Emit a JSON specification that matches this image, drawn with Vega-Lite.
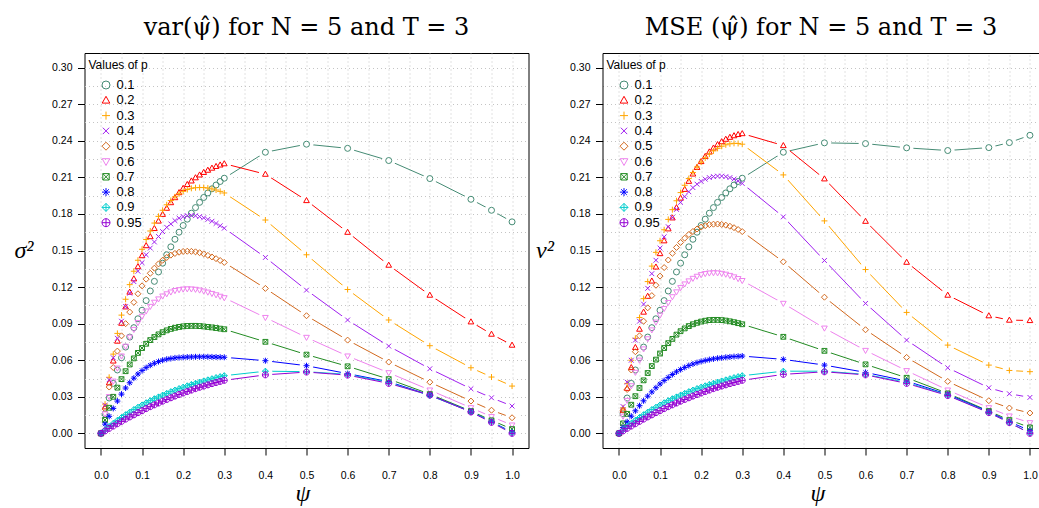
{
"$schema":"https://vega.github.io/schema/vega-lite/v6.json",
"padding":{"left":12.5,"top":15,"right":0,"bottom":0},
"background":"white",
"config":{
 "font":"Liberation Sans",
 "view":{"stroke":"black","strokeWidth":1},
 "axis":{"labelFont":"Liberation Sans","labelColor":"black","tickColor":"black","domainColor":"black","gridColor":"#c4c4c4","gridDash":[1,3],"gridWidth":1},
 "title":{"font":"DejaVu Serif","fontSize":24,"fontWeight":"normal","color":"black","offset":13},
 "legend":{"titleFont":"Liberation Sans","titleFontSize":12,"titleFontWeight":"normal","titleColor":"black","labelFont":"Liberation Sans","labelFontSize":13,"labelColor":"black","symbolSize":64,"symbolStrokeWidth":1,"rowPadding":1.3,"titlePadding":7,"labelOffset":4,"symbolOffset":11,"padding":0}
},
"datasets":{"d":[
{"f":"v","p":"0.1","x":0,"y":0},{"f":"v","p":"0.1","x":0.01,"y":0.016},{"f":"v","p":"0.1","x":0.02,"y":0.029},{"f":"v","p":"0.1","x":0.03,"y":0.041},{"f":"v","p":"0.1","x":0.04,"y":0.052},{"f":"v","p":"0.1","x":0.05,"y":0.062},{"f":"v","p":"0.1","x":0.06,"y":0.0708},{"f":"v","p":"0.1","x":0.07,"y":0.079},{"f":"v","p":"0.1","x":0.08,"y":0.0867},{"f":"v","p":"0.1","x":0.09,"y":0.094},{"f":"v","p":"0.1","x":0.1,"y":0.101},{"f":"v","p":"0.1","x":0.11,"y":0.1089},{"f":"v","p":"0.1","x":0.12,"y":0.1168},{"f":"v","p":"0.1","x":0.13,"y":0.1247},{"f":"v","p":"0.1","x":0.14,"y":0.1324},{"f":"v","p":"0.1","x":0.15,"y":0.1396},{"f":"v","p":"0.1","x":0.16,"y":0.1465},{"f":"v","p":"0.1","x":0.17,"y":0.153},{"f":"v","p":"0.1","x":0.18,"y":0.1592},{"f":"v","p":"0.1","x":0.19,"y":0.165},{"f":"v","p":"0.1","x":0.2,"y":0.1705},{"f":"v","p":"0.1","x":0.21,"y":0.1757},{"f":"v","p":"0.1","x":0.22,"y":0.1806},{"f":"v","p":"0.1","x":0.23,"y":0.1852},{"f":"v","p":"0.1","x":0.24,"y":0.1895},{"f":"v","p":"0.1","x":0.25,"y":0.1935},{"f":"v","p":"0.1","x":0.26,"y":0.1972},{"f":"v","p":"0.1","x":0.27,"y":0.2006},{"f":"v","p":"0.1","x":0.28,"y":0.2037},{"f":"v","p":"0.1","x":0.29,"y":0.2066},{"f":"v","p":"0.1","x":0.3,"y":0.2093},{"f":"v","p":"0.1","x":0.4,"y":0.2306},{"f":"v","p":"0.1","x":0.5,"y":0.2372},{"f":"v","p":"0.1","x":0.6,"y":0.2338},{"f":"v","p":"0.1","x":0.7,"y":0.2238},{"f":"v","p":"0.1","x":0.8,"y":0.209},{"f":"v","p":"0.1","x":0.9,"y":0.192},{"f":"v","p":"0.1","x":0.95,"y":0.183},{"f":"v","p":"0.1","x":1,"y":0.1735},
{"f":"v","p":"0.2","x":0,"y":0},{"f":"v","p":"0.2","x":0.01,"y":0.0218},{"f":"v","p":"0.2","x":0.02,"y":0.0415},{"f":"v","p":"0.2","x":0.03,"y":0.0594},{"f":"v","p":"0.2","x":0.04,"y":0.0757},{"f":"v","p":"0.2","x":0.05,"y":0.0904},{"f":"v","p":"0.2","x":0.06,"y":0.1038},{"f":"v","p":"0.2","x":0.07,"y":0.1159},{"f":"v","p":"0.2","x":0.08,"y":0.1268},{"f":"v","p":"0.2","x":0.09,"y":0.1368},{"f":"v","p":"0.2","x":0.1,"y":0.1458},{"f":"v","p":"0.2","x":0.11,"y":0.154},{"f":"v","p":"0.2","x":0.12,"y":0.1614},{"f":"v","p":"0.2","x":0.13,"y":0.1681},{"f":"v","p":"0.2","x":0.14,"y":0.1742},{"f":"v","p":"0.2","x":0.15,"y":0.1797},{"f":"v","p":"0.2","x":0.16,"y":0.1847},{"f":"v","p":"0.2","x":0.17,"y":0.1893},{"f":"v","p":"0.2","x":0.18,"y":0.1934},{"f":"v","p":"0.2","x":0.19,"y":0.1975},{"f":"v","p":"0.2","x":0.2,"y":0.201},{"f":"v","p":"0.2","x":0.21,"y":0.2042},{"f":"v","p":"0.2","x":0.22,"y":0.2071},{"f":"v","p":"0.2","x":0.23,"y":0.2097},{"f":"v","p":"0.2","x":0.24,"y":0.212},{"f":"v","p":"0.2","x":0.25,"y":0.2141},{"f":"v","p":"0.2","x":0.26,"y":0.2159},{"f":"v","p":"0.2","x":0.27,"y":0.2176},{"f":"v","p":"0.2","x":0.28,"y":0.219},{"f":"v","p":"0.2","x":0.29,"y":0.2202},{"f":"v","p":"0.2","x":0.3,"y":0.2212},{"f":"v","p":"0.2","x":0.4,"y":0.2126},{"f":"v","p":"0.2","x":0.5,"y":0.191},{"f":"v","p":"0.2","x":0.6,"y":0.165},{"f":"v","p":"0.2","x":0.7,"y":0.138},{"f":"v","p":"0.2","x":0.8,"y":0.1134},{"f":"v","p":"0.2","x":0.9,"y":0.0915},{"f":"v","p":"0.2","x":0.95,"y":0.0814},{"f":"v","p":"0.2","x":1,"y":0.0724},
{"f":"v","p":"0.3","x":0,"y":0},{"f":"v","p":"0.3","x":0.01,"y":0.024},{"f":"v","p":"0.3","x":0.02,"y":0.046},{"f":"v","p":"0.3","x":0.03,"y":0.065},{"f":"v","p":"0.3","x":0.04,"y":0.082},{"f":"v","p":"0.3","x":0.05,"y":0.097},{"f":"v","p":"0.3","x":0.06,"y":0.11},{"f":"v","p":"0.3","x":0.07,"y":0.122},{"f":"v","p":"0.3","x":0.08,"y":0.133},{"f":"v","p":"0.3","x":0.09,"y":0.142},{"f":"v","p":"0.3","x":0.1,"y":0.151},{"f":"v","p":"0.3","x":0.11,"y":0.159},{"f":"v","p":"0.3","x":0.12,"y":0.166},{"f":"v","p":"0.3","x":0.13,"y":0.1725},{"f":"v","p":"0.3","x":0.14,"y":0.178},{"f":"v","p":"0.3","x":0.15,"y":0.183},{"f":"v","p":"0.3","x":0.16,"y":0.1875},{"f":"v","p":"0.3","x":0.17,"y":0.191},{"f":"v","p":"0.3","x":0.18,"y":0.194},{"f":"v","p":"0.3","x":0.19,"y":0.1965},{"f":"v","p":"0.3","x":0.2,"y":0.1985},{"f":"v","p":"0.3","x":0.21,"y":0.2},{"f":"v","p":"0.3","x":0.22,"y":0.201},{"f":"v","p":"0.3","x":0.23,"y":0.2015},{"f":"v","p":"0.3","x":0.24,"y":0.2017},{"f":"v","p":"0.3","x":0.25,"y":0.2016},{"f":"v","p":"0.3","x":0.26,"y":0.2012},{"f":"v","p":"0.3","x":0.27,"y":0.2005},{"f":"v","p":"0.3","x":0.28,"y":0.1996},{"f":"v","p":"0.3","x":0.29,"y":0.1985},{"f":"v","p":"0.3","x":0.3,"y":0.1972},{"f":"v","p":"0.3","x":0.4,"y":0.175},{"f":"v","p":"0.3","x":0.5,"y":0.1465},{"f":"v","p":"0.3","x":0.6,"y":0.118},{"f":"v","p":"0.3","x":0.7,"y":0.093},{"f":"v","p":"0.3","x":0.8,"y":0.0719},{"f":"v","p":"0.3","x":0.9,"y":0.0538},{"f":"v","p":"0.3","x":0.95,"y":0.0462},{"f":"v","p":"0.3","x":1,"y":0.0388},
{"f":"v","p":"0.4","x":0,"y":0},{"f":"v","p":"0.4","x":0.01,"y":0.023},{"f":"v","p":"0.4","x":0.02,"y":0.044},{"f":"v","p":"0.4","x":0.03,"y":0.062},{"f":"v","p":"0.4","x":0.04,"y":0.078},{"f":"v","p":"0.4","x":0.05,"y":0.092},{"f":"v","p":"0.4","x":0.06,"y":0.104},{"f":"v","p":"0.4","x":0.07,"y":0.115},{"f":"v","p":"0.4","x":0.08,"y":0.1245},{"f":"v","p":"0.4","x":0.09,"y":0.133},{"f":"v","p":"0.4","x":0.1,"y":0.14},{"f":"v","p":"0.4","x":0.11,"y":0.1465},{"f":"v","p":"0.4","x":0.12,"y":0.152},{"f":"v","p":"0.4","x":0.13,"y":0.157},{"f":"v","p":"0.4","x":0.14,"y":0.1615},{"f":"v","p":"0.4","x":0.15,"y":0.1655},{"f":"v","p":"0.4","x":0.16,"y":0.169},{"f":"v","p":"0.4","x":0.17,"y":0.1718},{"f":"v","p":"0.4","x":0.18,"y":0.1745},{"f":"v","p":"0.4","x":0.19,"y":0.1765},{"f":"v","p":"0.4","x":0.2,"y":0.1778},{"f":"v","p":"0.4","x":0.21,"y":0.1786},{"f":"v","p":"0.4","x":0.22,"y":0.1788},{"f":"v","p":"0.4","x":0.23,"y":0.1785},{"f":"v","p":"0.4","x":0.24,"y":0.1778},{"f":"v","p":"0.4","x":0.25,"y":0.1768},{"f":"v","p":"0.4","x":0.26,"y":0.1755},{"f":"v","p":"0.4","x":0.27,"y":0.174},{"f":"v","p":"0.4","x":0.28,"y":0.1722},{"f":"v","p":"0.4","x":0.29,"y":0.1703},{"f":"v","p":"0.4","x":0.3,"y":0.1683},{"f":"v","p":"0.4","x":0.4,"y":0.1443},{"f":"v","p":"0.4","x":0.5,"y":0.1175},{"f":"v","p":"0.4","x":0.6,"y":0.093},{"f":"v","p":"0.4","x":0.7,"y":0.0716},{"f":"v","p":"0.4","x":0.8,"y":0.053},{"f":"v","p":"0.4","x":0.9,"y":0.0366},{"f":"v","p":"0.4","x":0.95,"y":0.0292},{"f":"v","p":"0.4","x":1,"y":0.0224},
{"f":"v","p":"0.5","x":0,"y":0},{"f":"v","p":"0.5","x":0.01,"y":0.02},{"f":"v","p":"0.5","x":0.02,"y":0.038},{"f":"v","p":"0.5","x":0.03,"y":0.054},{"f":"v","p":"0.5","x":0.04,"y":0.0675},{"f":"v","p":"0.5","x":0.05,"y":0.08},{"f":"v","p":"0.5","x":0.06,"y":0.09},{"f":"v","p":"0.5","x":0.07,"y":0.0995},{"f":"v","p":"0.5","x":0.08,"y":0.1075},{"f":"v","p":"0.5","x":0.09,"y":0.1145},{"f":"v","p":"0.5","x":0.1,"y":0.121},{"f":"v","p":"0.5","x":0.11,"y":0.1265},{"f":"v","p":"0.5","x":0.12,"y":0.1313},{"f":"v","p":"0.5","x":0.13,"y":0.1355},{"f":"v","p":"0.5","x":0.14,"y":0.139},{"f":"v","p":"0.5","x":0.15,"y":0.142},{"f":"v","p":"0.5","x":0.16,"y":0.1443},{"f":"v","p":"0.5","x":0.17,"y":0.1462},{"f":"v","p":"0.5","x":0.18,"y":0.1476},{"f":"v","p":"0.5","x":0.19,"y":0.1486},{"f":"v","p":"0.5","x":0.2,"y":0.1492},{"f":"v","p":"0.5","x":0.21,"y":0.1494},{"f":"v","p":"0.5","x":0.22,"y":0.1493},{"f":"v","p":"0.5","x":0.23,"y":0.1489},{"f":"v","p":"0.5","x":0.24,"y":0.1482},{"f":"v","p":"0.5","x":0.25,"y":0.1472},{"f":"v","p":"0.5","x":0.26,"y":0.146},{"f":"v","p":"0.5","x":0.27,"y":0.1447},{"f":"v","p":"0.5","x":0.28,"y":0.1433},{"f":"v","p":"0.5","x":0.29,"y":0.1418},{"f":"v","p":"0.5","x":0.3,"y":0.1402},{"f":"v","p":"0.5","x":0.4,"y":0.1189},{"f":"v","p":"0.5","x":0.5,"y":0.0965},{"f":"v","p":"0.5","x":0.6,"y":0.0765},{"f":"v","p":"0.5","x":0.7,"y":0.0585},{"f":"v","p":"0.5","x":0.8,"y":0.042},{"f":"v","p":"0.5","x":0.9,"y":0.0265},{"f":"v","p":"0.5","x":0.95,"y":0.019},{"f":"v","p":"0.5","x":1,"y":0.0128},
{"f":"v","p":"0.6","x":0,"y":0},{"f":"v","p":"0.6","x":0.01,"y":0.0159},{"f":"v","p":"0.6","x":0.02,"y":0.0301},{"f":"v","p":"0.6","x":0.03,"y":0.0428},{"f":"v","p":"0.6","x":0.04,"y":0.0535},{"f":"v","p":"0.6","x":0.05,"y":0.0634},{"f":"v","p":"0.6","x":0.06,"y":0.0714},{"f":"v","p":"0.6","x":0.07,"y":0.0789},{"f":"v","p":"0.6","x":0.08,"y":0.0852},{"f":"v","p":"0.6","x":0.09,"y":0.0908},{"f":"v","p":"0.6","x":0.1,"y":0.096},{"f":"v","p":"0.6","x":0.11,"y":0.1003},{"f":"v","p":"0.6","x":0.12,"y":0.1041},{"f":"v","p":"0.6","x":0.13,"y":0.1075},{"f":"v","p":"0.6","x":0.14,"y":0.1102},{"f":"v","p":"0.6","x":0.15,"y":0.1126},{"f":"v","p":"0.6","x":0.16,"y":0.1144},{"f":"v","p":"0.6","x":0.17,"y":0.1159},{"f":"v","p":"0.6","x":0.18,"y":0.1171},{"f":"v","p":"0.6","x":0.19,"y":0.1178},{"f":"v","p":"0.6","x":0.2,"y":0.1183},{"f":"v","p":"0.6","x":0.21,"y":0.1185},{"f":"v","p":"0.6","x":0.22,"y":0.1184},{"f":"v","p":"0.6","x":0.23,"y":0.1181},{"f":"v","p":"0.6","x":0.24,"y":0.1175},{"f":"v","p":"0.6","x":0.25,"y":0.1167},{"f":"v","p":"0.6","x":0.26,"y":0.1158},{"f":"v","p":"0.6","x":0.27,"y":0.1147},{"f":"v","p":"0.6","x":0.28,"y":0.1136},{"f":"v","p":"0.6","x":0.29,"y":0.1124},{"f":"v","p":"0.6","x":0.3,"y":0.1112},{"f":"v","p":"0.6","x":0.4,"y":0.095},{"f":"v","p":"0.6","x":0.5,"y":0.0787},{"f":"v","p":"0.6","x":0.6,"y":0.0634},{"f":"v","p":"0.6","x":0.7,"y":0.0497},{"f":"v","p":"0.6","x":0.8,"y":0.0355},{"f":"v","p":"0.6","x":0.9,"y":0.021},{"f":"v","p":"0.6","x":0.95,"y":0.0137},{"f":"v","p":"0.6","x":1,"y":0.0068},
{"f":"v","p":"0.7","x":0,"y":0},{"f":"v","p":"0.7","x":0.01,"y":0.011},{"f":"v","p":"0.7","x":0.02,"y":0.021},{"f":"v","p":"0.7","x":0.03,"y":0.03},{"f":"v","p":"0.7","x":0.04,"y":0.0375},{"f":"v","p":"0.7","x":0.05,"y":0.0445},{"f":"v","p":"0.7","x":0.06,"y":0.051},{"f":"v","p":"0.7","x":0.07,"y":0.0565},{"f":"v","p":"0.7","x":0.08,"y":0.0615},{"f":"v","p":"0.7","x":0.09,"y":0.066},{"f":"v","p":"0.7","x":0.1,"y":0.07},{"f":"v","p":"0.7","x":0.11,"y":0.0735},{"f":"v","p":"0.7","x":0.12,"y":0.0765},{"f":"v","p":"0.7","x":0.13,"y":0.079},{"f":"v","p":"0.7","x":0.14,"y":0.0812},{"f":"v","p":"0.7","x":0.15,"y":0.083},{"f":"v","p":"0.7","x":0.16,"y":0.0845},{"f":"v","p":"0.7","x":0.17,"y":0.0857},{"f":"v","p":"0.7","x":0.18,"y":0.0866},{"f":"v","p":"0.7","x":0.19,"y":0.0873},{"f":"v","p":"0.7","x":0.2,"y":0.0878},{"f":"v","p":"0.7","x":0.21,"y":0.0881},{"f":"v","p":"0.7","x":0.22,"y":0.0882},{"f":"v","p":"0.7","x":0.23,"y":0.0882},{"f":"v","p":"0.7","x":0.24,"y":0.088},{"f":"v","p":"0.7","x":0.25,"y":0.0877},{"f":"v","p":"0.7","x":0.26,"y":0.0873},{"f":"v","p":"0.7","x":0.27,"y":0.0869},{"f":"v","p":"0.7","x":0.28,"y":0.0864},{"f":"v","p":"0.7","x":0.29,"y":0.0859},{"f":"v","p":"0.7","x":0.3,"y":0.0854},{"f":"v","p":"0.7","x":0.4,"y":0.0751},{"f":"v","p":"0.7","x":0.5,"y":0.0646},{"f":"v","p":"0.7","x":0.6,"y":0.055},{"f":"v","p":"0.7","x":0.7,"y":0.0445},{"f":"v","p":"0.7","x":0.8,"y":0.0322},{"f":"v","p":"0.7","x":0.9,"y":0.0183},{"f":"v","p":"0.7","x":0.95,"y":0.0107},{"f":"v","p":"0.7","x":1,"y":0.0035},
{"f":"v","p":"0.8","x":0,"y":0},{"f":"v","p":"0.8","x":0.01,"y":0.0076},{"f":"v","p":"0.8","x":0.02,"y":0.014},{"f":"v","p":"0.8","x":0.03,"y":0.0205},{"f":"v","p":"0.8","x":0.04,"y":0.0265},{"f":"v","p":"0.8","x":0.05,"y":0.0322},{"f":"v","p":"0.8","x":0.06,"y":0.0372},{"f":"v","p":"0.8","x":0.07,"y":0.0415},{"f":"v","p":"0.8","x":0.08,"y":0.0453},{"f":"v","p":"0.8","x":0.09,"y":0.0487},{"f":"v","p":"0.8","x":0.1,"y":0.0515},{"f":"v","p":"0.8","x":0.11,"y":0.0539},{"f":"v","p":"0.8","x":0.12,"y":0.0559},{"f":"v","p":"0.8","x":0.13,"y":0.0575},{"f":"v","p":"0.8","x":0.14,"y":0.0589},{"f":"v","p":"0.8","x":0.15,"y":0.06},{"f":"v","p":"0.8","x":0.16,"y":0.0608},{"f":"v","p":"0.8","x":0.17,"y":0.0614},{"f":"v","p":"0.8","x":0.18,"y":0.0619},{"f":"v","p":"0.8","x":0.19,"y":0.0622},{"f":"v","p":"0.8","x":0.2,"y":0.0624},{"f":"v","p":"0.8","x":0.21,"y":0.0626},{"f":"v","p":"0.8","x":0.22,"y":0.0627},{"f":"v","p":"0.8","x":0.23,"y":0.0628},{"f":"v","p":"0.8","x":0.24,"y":0.0628},{"f":"v","p":"0.8","x":0.25,"y":0.0628},{"f":"v","p":"0.8","x":0.26,"y":0.0628},{"f":"v","p":"0.8","x":0.27,"y":0.0627},{"f":"v","p":"0.8","x":0.28,"y":0.0626},{"f":"v","p":"0.8","x":0.29,"y":0.0625},{"f":"v","p":"0.8","x":0.3,"y":0.0624},{"f":"v","p":"0.8","x":0.4,"y":0.0596},{"f":"v","p":"0.8","x":0.5,"y":0.0555},{"f":"v","p":"0.8","x":0.6,"y":0.049},{"f":"v","p":"0.8","x":0.7,"y":0.0424},{"f":"v","p":"0.8","x":0.8,"y":0.0314},{"f":"v","p":"0.8","x":0.9,"y":0.0178},{"f":"v","p":"0.8","x":0.95,"y":0.0096},{"f":"v","p":"0.8","x":1,"y":0.001},
{"f":"v","p":"0.9","x":0,"y":0},{"f":"v","p":"0.9","x":0.01,"y":0.0029},{"f":"v","p":"0.9","x":0.02,"y":0.0056},{"f":"v","p":"0.9","x":0.03,"y":0.0082},{"f":"v","p":"0.9","x":0.04,"y":0.0107},{"f":"v","p":"0.9","x":0.05,"y":0.013},{"f":"v","p":"0.9","x":0.06,"y":0.0153},{"f":"v","p":"0.9","x":0.07,"y":0.0174},{"f":"v","p":"0.9","x":0.08,"y":0.0195},{"f":"v","p":"0.9","x":0.09,"y":0.0214},{"f":"v","p":"0.9","x":0.1,"y":0.0233},{"f":"v","p":"0.9","x":0.11,"y":0.0251},{"f":"v","p":"0.9","x":0.12,"y":0.0268},{"f":"v","p":"0.9","x":0.13,"y":0.0284},{"f":"v","p":"0.9","x":0.14,"y":0.0299},{"f":"v","p":"0.9","x":0.15,"y":0.0314},{"f":"v","p":"0.9","x":0.16,"y":0.0328},{"f":"v","p":"0.9","x":0.17,"y":0.0342},{"f":"v","p":"0.9","x":0.18,"y":0.0355},{"f":"v","p":"0.9","x":0.19,"y":0.0367},{"f":"v","p":"0.9","x":0.2,"y":0.0379},{"f":"v","p":"0.9","x":0.21,"y":0.039},{"f":"v","p":"0.9","x":0.22,"y":0.0401},{"f":"v","p":"0.9","x":0.23,"y":0.0411},{"f":"v","p":"0.9","x":0.24,"y":0.0421},{"f":"v","p":"0.9","x":0.25,"y":0.043},{"f":"v","p":"0.9","x":0.26,"y":0.0439},{"f":"v","p":"0.9","x":0.27,"y":0.0448},{"f":"v","p":"0.9","x":0.28,"y":0.0457},{"f":"v","p":"0.9","x":0.29,"y":0.0465},{"f":"v","p":"0.9","x":0.3,"y":0.0473},{"f":"v","p":"0.9","x":0.4,"y":0.051},{"f":"v","p":"0.9","x":0.5,"y":0.0506},{"f":"v","p":"0.9","x":0.6,"y":0.0484},{"f":"v","p":"0.9","x":0.7,"y":0.0418},{"f":"v","p":"0.9","x":0.8,"y":0.031},{"f":"v","p":"0.9","x":0.9,"y":0.0178},{"f":"v","p":"0.9","x":0.95,"y":0.0094},{"f":"v","p":"0.9","x":1,"y":0.0005},
{"f":"v","p":"0.95","x":0,"y":0},{"f":"v","p":"0.95","x":0.01,"y":0.002},{"f":"v","p":"0.95","x":0.02,"y":0.0041},{"f":"v","p":"0.95","x":0.03,"y":0.006},{"f":"v","p":"0.95","x":0.04,"y":0.0079},{"f":"v","p":"0.95","x":0.05,"y":0.0098},{"f":"v","p":"0.95","x":0.06,"y":0.0117},{"f":"v","p":"0.95","x":0.07,"y":0.0135},{"f":"v","p":"0.95","x":0.08,"y":0.0152},{"f":"v","p":"0.95","x":0.09,"y":0.017},{"f":"v","p":"0.95","x":0.1,"y":0.0186},{"f":"v","p":"0.95","x":0.11,"y":0.0203},{"f":"v","p":"0.95","x":0.12,"y":0.0219},{"f":"v","p":"0.95","x":0.13,"y":0.0234},{"f":"v","p":"0.95","x":0.14,"y":0.0249},{"f":"v","p":"0.95","x":0.15,"y":0.0264},{"f":"v","p":"0.95","x":0.16,"y":0.0278},{"f":"v","p":"0.95","x":0.17,"y":0.0292},{"f":"v","p":"0.95","x":0.18,"y":0.0306},{"f":"v","p":"0.95","x":0.19,"y":0.0319},{"f":"v","p":"0.95","x":0.2,"y":0.0331},{"f":"v","p":"0.95","x":0.21,"y":0.0343},{"f":"v","p":"0.95","x":0.22,"y":0.0355},{"f":"v","p":"0.95","x":0.23,"y":0.0367},{"f":"v","p":"0.95","x":0.24,"y":0.0378},{"f":"v","p":"0.95","x":0.25,"y":0.0388},{"f":"v","p":"0.95","x":0.26,"y":0.0398},{"f":"v","p":"0.95","x":0.27,"y":0.0408},{"f":"v","p":"0.95","x":0.28,"y":0.0417},{"f":"v","p":"0.95","x":0.29,"y":0.0426},{"f":"v","p":"0.95","x":0.3,"y":0.0435},{"f":"v","p":"0.95","x":0.4,"y":0.048},{"f":"v","p":"0.95","x":0.5,"y":0.0503},{"f":"v","p":"0.95","x":0.6,"y":0.0478},{"f":"v","p":"0.95","x":0.7,"y":0.041},{"f":"v","p":"0.95","x":0.8,"y":0.0314},{"f":"v","p":"0.95","x":0.9,"y":0.0175},{"f":"v","p":"0.95","x":0.95,"y":0.009},{"f":"v","p":"0.95","x":1,"y":0},
{"f":"m","p":"0.1","x":0,"y":0},{"f":"m","p":"0.1","x":0.01,"y":0.016},{"f":"m","p":"0.1","x":0.02,"y":0.029},{"f":"m","p":"0.1","x":0.03,"y":0.041},{"f":"m","p":"0.1","x":0.04,"y":0.052},{"f":"m","p":"0.1","x":0.05,"y":0.062},{"f":"m","p":"0.1","x":0.06,"y":0.0708},{"f":"m","p":"0.1","x":0.07,"y":0.079},{"f":"m","p":"0.1","x":0.08,"y":0.0867},{"f":"m","p":"0.1","x":0.09,"y":0.094},{"f":"m","p":"0.1","x":0.1,"y":0.101},{"f":"m","p":"0.1","x":0.11,"y":0.1089},{"f":"m","p":"0.1","x":0.12,"y":0.1168},{"f":"m","p":"0.1","x":0.13,"y":0.1247},{"f":"m","p":"0.1","x":0.14,"y":0.1324},{"f":"m","p":"0.1","x":0.15,"y":0.1396},{"f":"m","p":"0.1","x":0.16,"y":0.1465},{"f":"m","p":"0.1","x":0.17,"y":0.153},{"f":"m","p":"0.1","x":0.18,"y":0.1592},{"f":"m","p":"0.1","x":0.19,"y":0.165},{"f":"m","p":"0.1","x":0.2,"y":0.1705},{"f":"m","p":"0.1","x":0.21,"y":0.1757},{"f":"m","p":"0.1","x":0.22,"y":0.1806},{"f":"m","p":"0.1","x":0.23,"y":0.1852},{"f":"m","p":"0.1","x":0.24,"y":0.1895},{"f":"m","p":"0.1","x":0.25,"y":0.1935},{"f":"m","p":"0.1","x":0.26,"y":0.1972},{"f":"m","p":"0.1","x":0.27,"y":0.2006},{"f":"m","p":"0.1","x":0.28,"y":0.2037},{"f":"m","p":"0.1","x":0.29,"y":0.2066},{"f":"m","p":"0.1","x":0.3,"y":0.2093},{"f":"m","p":"0.1","x":0.4,"y":0.2306},{"f":"m","p":"0.1","x":0.5,"y":0.2383},{"f":"m","p":"0.1","x":0.6,"y":0.2377},{"f":"m","p":"0.1","x":0.7,"y":0.2342},{"f":"m","p":"0.1","x":0.8,"y":0.232},{"f":"m","p":"0.1","x":0.9,"y":0.2344},{"f":"m","p":"0.1","x":0.95,"y":0.2385},{"f":"m","p":"0.1","x":1,"y":0.2445},
{"f":"m","p":"0.2","x":0,"y":0},{"f":"m","p":"0.2","x":0.01,"y":0.019},{"f":"m","p":"0.2","x":0.02,"y":0.037},{"f":"m","p":"0.2","x":0.03,"y":0.054},{"f":"m","p":"0.2","x":0.04,"y":0.0705},{"f":"m","p":"0.2","x":0.05,"y":0.0855},{"f":"m","p":"0.2","x":0.06,"y":0.0995},{"f":"m","p":"0.2","x":0.07,"y":0.1125},{"f":"m","p":"0.2","x":0.08,"y":0.125},{"f":"m","p":"0.2","x":0.09,"y":0.1365},{"f":"m","p":"0.2","x":0.1,"y":0.1475},{"f":"m","p":"0.2","x":0.11,"y":0.158},{"f":"m","p":"0.2","x":0.12,"y":0.1678},{"f":"m","p":"0.2","x":0.13,"y":0.1768},{"f":"m","p":"0.2","x":0.14,"y":0.1852},{"f":"m","p":"0.2","x":0.15,"y":0.193},{"f":"m","p":"0.2","x":0.16,"y":0.2002},{"f":"m","p":"0.2","x":0.17,"y":0.2068},{"f":"m","p":"0.2","x":0.18,"y":0.2128},{"f":"m","p":"0.2","x":0.19,"y":0.2182},{"f":"m","p":"0.2","x":0.2,"y":0.223},{"f":"m","p":"0.2","x":0.21,"y":0.2272},{"f":"m","p":"0.2","x":0.22,"y":0.2309},{"f":"m","p":"0.2","x":0.23,"y":0.2341},{"f":"m","p":"0.2","x":0.24,"y":0.2369},{"f":"m","p":"0.2","x":0.25,"y":0.2393},{"f":"m","p":"0.2","x":0.26,"y":0.2413},{"f":"m","p":"0.2","x":0.27,"y":0.2429},{"f":"m","p":"0.2","x":0.28,"y":0.2442},{"f":"m","p":"0.2","x":0.29,"y":0.2452},{"f":"m","p":"0.2","x":0.3,"y":0.2459},{"f":"m","p":"0.2","x":0.4,"y":0.2361},{"f":"m","p":"0.2","x":0.5,"y":0.2088},{"f":"m","p":"0.2","x":0.6,"y":0.174},{"f":"m","p":"0.2","x":0.7,"y":0.1404},{"f":"m","p":"0.2","x":0.8,"y":0.1134},{"f":"m","p":"0.2","x":0.9,"y":0.0965},{"f":"m","p":"0.2","x":0.95,"y":0.0929},{"f":"m","p":"0.2","x":1,"y":0.0926},
{"f":"m","p":"0.3","x":0,"y":0},{"f":"m","p":"0.3","x":0.01,"y":0.021},{"f":"m","p":"0.3","x":0.02,"y":0.041},{"f":"m","p":"0.3","x":0.03,"y":0.06},{"f":"m","p":"0.3","x":0.04,"y":0.078},{"f":"m","p":"0.3","x":0.05,"y":0.095},{"f":"m","p":"0.3","x":0.06,"y":0.1105},{"f":"m","p":"0.3","x":0.07,"y":0.1245},{"f":"m","p":"0.3","x":0.08,"y":0.1372},{"f":"m","p":"0.3","x":0.09,"y":0.1485},{"f":"m","p":"0.3","x":0.1,"y":0.158},{"f":"m","p":"0.3","x":0.11,"y":0.167},{"f":"m","p":"0.3","x":0.12,"y":0.1755},{"f":"m","p":"0.3","x":0.13,"y":0.1835},{"f":"m","p":"0.3","x":0.14,"y":0.1908},{"f":"m","p":"0.3","x":0.15,"y":0.1975},{"f":"m","p":"0.3","x":0.16,"y":0.2035},{"f":"m","p":"0.3","x":0.17,"y":0.209},{"f":"m","p":"0.3","x":0.18,"y":0.214},{"f":"m","p":"0.3","x":0.19,"y":0.2185},{"f":"m","p":"0.3","x":0.2,"y":0.2225},{"f":"m","p":"0.3","x":0.21,"y":0.226},{"f":"m","p":"0.3","x":0.22,"y":0.2291},{"f":"m","p":"0.3","x":0.23,"y":0.2317},{"f":"m","p":"0.3","x":0.24,"y":0.2338},{"f":"m","p":"0.3","x":0.25,"y":0.2355},{"f":"m","p":"0.3","x":0.26,"y":0.2367},{"f":"m","p":"0.3","x":0.27,"y":0.2375},{"f":"m","p":"0.3","x":0.28,"y":0.2379},{"f":"m","p":"0.3","x":0.29,"y":0.2378},{"f":"m","p":"0.3","x":0.3,"y":0.2372},{"f":"m","p":"0.3","x":0.4,"y":0.212},{"f":"m","p":"0.3","x":0.5,"y":0.1743},{"f":"m","p":"0.3","x":0.6,"y":0.1344},{"f":"m","p":"0.3","x":0.7,"y":0.0992},{"f":"m","p":"0.3","x":0.8,"y":0.0724},{"f":"m","p":"0.3","x":0.9,"y":0.056},{"f":"m","p":"0.3","x":0.95,"y":0.0516},{"f":"m","p":"0.3","x":1,"y":0.0506},
{"f":"m","p":"0.4","x":0,"y":0},{"f":"m","p":"0.4","x":0.01,"y":0.022},{"f":"m","p":"0.4","x":0.02,"y":0.042},{"f":"m","p":"0.4","x":0.03,"y":0.06},{"f":"m","p":"0.4","x":0.04,"y":0.0765},{"f":"m","p":"0.4","x":0.05,"y":0.092},{"f":"m","p":"0.4","x":0.06,"y":0.106},{"f":"m","p":"0.4","x":0.07,"y":0.119},{"f":"m","p":"0.4","x":0.08,"y":0.131},{"f":"m","p":"0.4","x":0.09,"y":0.142},{"f":"m","p":"0.4","x":0.1,"y":0.152},{"f":"m","p":"0.4","x":0.11,"y":0.1612},{"f":"m","p":"0.4","x":0.12,"y":0.1695},{"f":"m","p":"0.4","x":0.13,"y":0.177},{"f":"m","p":"0.4","x":0.14,"y":0.1837},{"f":"m","p":"0.4","x":0.15,"y":0.1895},{"f":"m","p":"0.4","x":0.16,"y":0.1942},{"f":"m","p":"0.4","x":0.17,"y":0.1982},{"f":"m","p":"0.4","x":0.18,"y":0.2016},{"f":"m","p":"0.4","x":0.19,"y":0.2044},{"f":"m","p":"0.4","x":0.2,"y":0.2067},{"f":"m","p":"0.4","x":0.21,"y":0.2085},{"f":"m","p":"0.4","x":0.22,"y":0.2098},{"f":"m","p":"0.4","x":0.23,"y":0.2106},{"f":"m","p":"0.4","x":0.24,"y":0.211},{"f":"m","p":"0.4","x":0.25,"y":0.211},{"f":"m","p":"0.4","x":0.26,"y":0.2106},{"f":"m","p":"0.4","x":0.27,"y":0.2098},{"f":"m","p":"0.4","x":0.28,"y":0.2086},{"f":"m","p":"0.4","x":0.29,"y":0.207},{"f":"m","p":"0.4","x":0.3,"y":0.205},{"f":"m","p":"0.4","x":0.4,"y":0.1776},{"f":"m","p":"0.4","x":0.5,"y":0.1418},{"f":"m","p":"0.4","x":0.6,"y":0.1066},{"f":"m","p":"0.4","x":0.7,"y":0.0765},{"f":"m","p":"0.4","x":0.8,"y":0.0538},{"f":"m","p":"0.4","x":0.9,"y":0.0374},{"f":"m","p":"0.4","x":0.95,"y":0.0325},{"f":"m","p":"0.4","x":1,"y":0.0295},
{"f":"m","p":"0.5","x":0,"y":0},{"f":"m","p":"0.5","x":0.01,"y":0.019},{"f":"m","p":"0.5","x":0.02,"y":0.036},{"f":"m","p":"0.5","x":0.03,"y":0.052},{"f":"m","p":"0.5","x":0.04,"y":0.067},{"f":"m","p":"0.5","x":0.05,"y":0.08},{"f":"m","p":"0.5","x":0.06,"y":0.092},{"f":"m","p":"0.5","x":0.07,"y":0.103},{"f":"m","p":"0.5","x":0.08,"y":0.113},{"f":"m","p":"0.5","x":0.09,"y":0.1215},{"f":"m","p":"0.5","x":0.1,"y":0.129},{"f":"m","p":"0.5","x":0.11,"y":0.136},{"f":"m","p":"0.5","x":0.12,"y":0.1422},{"f":"m","p":"0.5","x":0.13,"y":0.1477},{"f":"m","p":"0.5","x":0.14,"y":0.1525},{"f":"m","p":"0.5","x":0.15,"y":0.1566},{"f":"m","p":"0.5","x":0.16,"y":0.1601},{"f":"m","p":"0.5","x":0.17,"y":0.1631},{"f":"m","p":"0.5","x":0.18,"y":0.1656},{"f":"m","p":"0.5","x":0.19,"y":0.1676},{"f":"m","p":"0.5","x":0.2,"y":0.1692},{"f":"m","p":"0.5","x":0.21,"y":0.1704},{"f":"m","p":"0.5","x":0.22,"y":0.1712},{"f":"m","p":"0.5","x":0.23,"y":0.1716},{"f":"m","p":"0.5","x":0.24,"y":0.1717},{"f":"m","p":"0.5","x":0.25,"y":0.1714},{"f":"m","p":"0.5","x":0.26,"y":0.1708},{"f":"m","p":"0.5","x":0.27,"y":0.1699},{"f":"m","p":"0.5","x":0.28,"y":0.1687},{"f":"m","p":"0.5","x":0.29,"y":0.1672},{"f":"m","p":"0.5","x":0.3,"y":0.1655},{"f":"m","p":"0.5","x":0.4,"y":0.1407},{"f":"m","p":"0.5","x":0.5,"y":0.1117},{"f":"m","p":"0.5","x":0.6,"y":0.085},{"f":"m","p":"0.5","x":0.7,"y":0.0623},{"f":"m","p":"0.5","x":0.8,"y":0.0426},{"f":"m","p":"0.5","x":0.9,"y":0.0268},{"f":"m","p":"0.5","x":0.95,"y":0.0208},{"f":"m","p":"0.5","x":1,"y":0.0167},
{"f":"m","p":"0.6","x":0,"y":0},{"f":"m","p":"0.6","x":0.01,"y":0.014},{"f":"m","p":"0.6","x":0.02,"y":0.027},{"f":"m","p":"0.6","x":0.03,"y":0.039},{"f":"m","p":"0.6","x":0.04,"y":0.05},{"f":"m","p":"0.6","x":0.05,"y":0.06},{"f":"m","p":"0.6","x":0.06,"y":0.0692},{"f":"m","p":"0.6","x":0.07,"y":0.0775},{"f":"m","p":"0.6","x":0.08,"y":0.0848},{"f":"m","p":"0.6","x":0.09,"y":0.0912},{"f":"m","p":"0.6","x":0.1,"y":0.097},{"f":"m","p":"0.6","x":0.11,"y":0.1024},{"f":"m","p":"0.6","x":0.12,"y":0.1073},{"f":"m","p":"0.6","x":0.13,"y":0.112},{"f":"m","p":"0.6","x":0.14,"y":0.116},{"f":"m","p":"0.6","x":0.15,"y":0.1195},{"f":"m","p":"0.6","x":0.16,"y":0.1225},{"f":"m","p":"0.6","x":0.17,"y":0.125},{"f":"m","p":"0.6","x":0.18,"y":0.1271},{"f":"m","p":"0.6","x":0.19,"y":0.1288},{"f":"m","p":"0.6","x":0.2,"y":0.1301},{"f":"m","p":"0.6","x":0.21,"y":0.131},{"f":"m","p":"0.6","x":0.22,"y":0.1315},{"f":"m","p":"0.6","x":0.23,"y":0.1317},{"f":"m","p":"0.6","x":0.24,"y":0.1316},{"f":"m","p":"0.6","x":0.25,"y":0.1312},{"f":"m","p":"0.6","x":0.26,"y":0.1305},{"f":"m","p":"0.6","x":0.27,"y":0.1295},{"f":"m","p":"0.6","x":0.28,"y":0.1283},{"f":"m","p":"0.6","x":0.29,"y":0.1269},{"f":"m","p":"0.6","x":0.3,"y":0.1253},{"f":"m","p":"0.6","x":0.4,"y":0.1066},{"f":"m","p":"0.6","x":0.5,"y":0.0863},{"f":"m","p":"0.6","x":0.6,"y":0.068},{"f":"m","p":"0.6","x":0.7,"y":0.0514},{"f":"m","p":"0.6","x":0.8,"y":0.0355},{"f":"m","p":"0.6","x":0.9,"y":0.021},{"f":"m","p":"0.6","x":0.95,"y":0.0142},{"f":"m","p":"0.6","x":1,"y":0.0087},
{"f":"m","p":"0.7","x":0,"y":0},{"f":"m","p":"0.7","x":0.01,"y":0.0082},{"f":"m","p":"0.7","x":0.02,"y":0.016},{"f":"m","p":"0.7","x":0.03,"y":0.0235},{"f":"m","p":"0.7","x":0.04,"y":0.0305},{"f":"m","p":"0.7","x":0.05,"y":0.0372},{"f":"m","p":"0.7","x":0.06,"y":0.0435},{"f":"m","p":"0.7","x":0.07,"y":0.0495},{"f":"m","p":"0.7","x":0.08,"y":0.0552},{"f":"m","p":"0.7","x":0.09,"y":0.0605},{"f":"m","p":"0.7","x":0.1,"y":0.0655},{"f":"m","p":"0.7","x":0.11,"y":0.07},{"f":"m","p":"0.7","x":0.12,"y":0.074},{"f":"m","p":"0.7","x":0.13,"y":0.0775},{"f":"m","p":"0.7","x":0.14,"y":0.081},{"f":"m","p":"0.7","x":0.15,"y":0.0838},{"f":"m","p":"0.7","x":0.16,"y":0.0861},{"f":"m","p":"0.7","x":0.17,"y":0.088},{"f":"m","p":"0.7","x":0.18,"y":0.0895},{"f":"m","p":"0.7","x":0.19,"y":0.0907},{"f":"m","p":"0.7","x":0.2,"y":0.0917},{"f":"m","p":"0.7","x":0.21,"y":0.0924},{"f":"m","p":"0.7","x":0.22,"y":0.0929},{"f":"m","p":"0.7","x":0.23,"y":0.0931},{"f":"m","p":"0.7","x":0.24,"y":0.0931},{"f":"m","p":"0.7","x":0.25,"y":0.0929},{"f":"m","p":"0.7","x":0.26,"y":0.0925},{"f":"m","p":"0.7","x":0.27,"y":0.0919},{"f":"m","p":"0.7","x":0.28,"y":0.0912},{"f":"m","p":"0.7","x":0.29,"y":0.0904},{"f":"m","p":"0.7","x":0.3,"y":0.0895},{"f":"m","p":"0.7","x":0.4,"y":0.0792},{"f":"m","p":"0.7","x":0.5,"y":0.0677},{"f":"m","p":"0.7","x":0.6,"y":0.0566},{"f":"m","p":"0.7","x":0.7,"y":0.0456},{"f":"m","p":"0.7","x":0.8,"y":0.0328},{"f":"m","p":"0.7","x":0.9,"y":0.0183},{"f":"m","p":"0.7","x":0.95,"y":0.0109},{"f":"m","p":"0.7","x":1,"y":0.0049},
{"f":"m","p":"0.8","x":0,"y":0},{"f":"m","p":"0.8","x":0.01,"y":0.0048},{"f":"m","p":"0.8","x":0.02,"y":0.0095},{"f":"m","p":"0.8","x":0.03,"y":0.0141},{"f":"m","p":"0.8","x":0.04,"y":0.0185},{"f":"m","p":"0.8","x":0.05,"y":0.0227},{"f":"m","p":"0.8","x":0.06,"y":0.0267},{"f":"m","p":"0.8","x":0.07,"y":0.0305},{"f":"m","p":"0.8","x":0.08,"y":0.034},{"f":"m","p":"0.8","x":0.09,"y":0.0374},{"f":"m","p":"0.8","x":0.1,"y":0.0405},{"f":"m","p":"0.8","x":0.11,"y":0.0433},{"f":"m","p":"0.8","x":0.12,"y":0.0459},{"f":"m","p":"0.8","x":0.13,"y":0.0483},{"f":"m","p":"0.8","x":0.14,"y":0.0505},{"f":"m","p":"0.8","x":0.15,"y":0.0524},{"f":"m","p":"0.8","x":0.16,"y":0.0541},{"f":"m","p":"0.8","x":0.17,"y":0.0556},{"f":"m","p":"0.8","x":0.18,"y":0.0569},{"f":"m","p":"0.8","x":0.19,"y":0.058},{"f":"m","p":"0.8","x":0.2,"y":0.059},{"f":"m","p":"0.8","x":0.21,"y":0.0598},{"f":"m","p":"0.8","x":0.22,"y":0.0605},{"f":"m","p":"0.8","x":0.23,"y":0.0611},{"f":"m","p":"0.8","x":0.24,"y":0.0616},{"f":"m","p":"0.8","x":0.25,"y":0.062},{"f":"m","p":"0.8","x":0.26,"y":0.0624},{"f":"m","p":"0.8","x":0.27,"y":0.0627},{"f":"m","p":"0.8","x":0.28,"y":0.063},{"f":"m","p":"0.8","x":0.29,"y":0.0632},{"f":"m","p":"0.8","x":0.3,"y":0.0634},{"f":"m","p":"0.8","x":0.4,"y":0.0607},{"f":"m","p":"0.8","x":0.5,"y":0.056},{"f":"m","p":"0.8","x":0.6,"y":0.05},{"f":"m","p":"0.8","x":0.7,"y":0.0429},{"f":"m","p":"0.8","x":0.8,"y":0.032},{"f":"m","p":"0.8","x":0.9,"y":0.0178},{"f":"m","p":"0.8","x":0.95,"y":0.0096},{"f":"m","p":"0.8","x":1,"y":0.0022},
{"f":"m","p":"0.9","x":0,"y":0},{"f":"m","p":"0.9","x":0.01,"y":0.0029},{"f":"m","p":"0.9","x":0.02,"y":0.0056},{"f":"m","p":"0.9","x":0.03,"y":0.0082},{"f":"m","p":"0.9","x":0.04,"y":0.0107},{"f":"m","p":"0.9","x":0.05,"y":0.013},{"f":"m","p":"0.9","x":0.06,"y":0.0153},{"f":"m","p":"0.9","x":0.07,"y":0.0174},{"f":"m","p":"0.9","x":0.08,"y":0.0195},{"f":"m","p":"0.9","x":0.09,"y":0.0214},{"f":"m","p":"0.9","x":0.1,"y":0.0233},{"f":"m","p":"0.9","x":0.11,"y":0.0251},{"f":"m","p":"0.9","x":0.12,"y":0.0268},{"f":"m","p":"0.9","x":0.13,"y":0.0284},{"f":"m","p":"0.9","x":0.14,"y":0.0299},{"f":"m","p":"0.9","x":0.15,"y":0.0314},{"f":"m","p":"0.9","x":0.16,"y":0.0328},{"f":"m","p":"0.9","x":0.17,"y":0.0342},{"f":"m","p":"0.9","x":0.18,"y":0.0355},{"f":"m","p":"0.9","x":0.19,"y":0.0367},{"f":"m","p":"0.9","x":0.2,"y":0.0379},{"f":"m","p":"0.9","x":0.21,"y":0.039},{"f":"m","p":"0.9","x":0.22,"y":0.0401},{"f":"m","p":"0.9","x":0.23,"y":0.0411},{"f":"m","p":"0.9","x":0.24,"y":0.0421},{"f":"m","p":"0.9","x":0.25,"y":0.043},{"f":"m","p":"0.9","x":0.26,"y":0.0439},{"f":"m","p":"0.9","x":0.27,"y":0.0448},{"f":"m","p":"0.9","x":0.28,"y":0.0457},{"f":"m","p":"0.9","x":0.29,"y":0.0465},{"f":"m","p":"0.9","x":0.3,"y":0.0473},{"f":"m","p":"0.9","x":0.4,"y":0.051},{"f":"m","p":"0.9","x":0.5,"y":0.051},{"f":"m","p":"0.9","x":0.6,"y":0.0484},{"f":"m","p":"0.9","x":0.7,"y":0.0418},{"f":"m","p":"0.9","x":0.8,"y":0.0314},{"f":"m","p":"0.9","x":0.9,"y":0.0172},{"f":"m","p":"0.9","x":0.95,"y":0.0088},{"f":"m","p":"0.9","x":1,"y":0.0003},
{"f":"m","p":"0.95","x":0,"y":0},{"f":"m","p":"0.95","x":0.01,"y":0.002},{"f":"m","p":"0.95","x":0.02,"y":0.0041},{"f":"m","p":"0.95","x":0.03,"y":0.006},{"f":"m","p":"0.95","x":0.04,"y":0.0079},{"f":"m","p":"0.95","x":0.05,"y":0.0098},{"f":"m","p":"0.95","x":0.06,"y":0.0117},{"f":"m","p":"0.95","x":0.07,"y":0.0135},{"f":"m","p":"0.95","x":0.08,"y":0.0152},{"f":"m","p":"0.95","x":0.09,"y":0.017},{"f":"m","p":"0.95","x":0.1,"y":0.0186},{"f":"m","p":"0.95","x":0.11,"y":0.0203},{"f":"m","p":"0.95","x":0.12,"y":0.0219},{"f":"m","p":"0.95","x":0.13,"y":0.0234},{"f":"m","p":"0.95","x":0.14,"y":0.0249},{"f":"m","p":"0.95","x":0.15,"y":0.0264},{"f":"m","p":"0.95","x":0.16,"y":0.0278},{"f":"m","p":"0.95","x":0.17,"y":0.0292},{"f":"m","p":"0.95","x":0.18,"y":0.0306},{"f":"m","p":"0.95","x":0.19,"y":0.0319},{"f":"m","p":"0.95","x":0.2,"y":0.0331},{"f":"m","p":"0.95","x":0.21,"y":0.0343},{"f":"m","p":"0.95","x":0.22,"y":0.0355},{"f":"m","p":"0.95","x":0.23,"y":0.0367},{"f":"m","p":"0.95","x":0.24,"y":0.0378},{"f":"m","p":"0.95","x":0.25,"y":0.0388},{"f":"m","p":"0.95","x":0.26,"y":0.0398},{"f":"m","p":"0.95","x":0.27,"y":0.0408},{"f":"m","p":"0.95","x":0.28,"y":0.0417},{"f":"m","p":"0.95","x":0.29,"y":0.0426},{"f":"m","p":"0.95","x":0.3,"y":0.0435},{"f":"m","p":"0.95","x":0.4,"y":0.0484},{"f":"m","p":"0.95","x":0.5,"y":0.0505},{"f":"m","p":"0.95","x":0.6,"y":0.048},{"f":"m","p":"0.95","x":0.7,"y":0.041},{"f":"m","p":"0.95","x":0.8,"y":0.031},{"f":"m","p":"0.95","x":0.9,"y":0.017},{"f":"m","p":"0.95","x":0.95,"y":0.0088},{"f":"m","p":"0.95","x":1,"y":0}
]},
"hconcat":[
{
 "width":444,"height":395,
 "title":"var(ψ̂) for N = 5 and T = 3",
 "data":{"name":"d"},
 "transform":[{"filter":"datum.f == 'v'"}],
 "layer":[
  {"transform":[{"filter":"datum.x >= 0.3"}],
   "mark":{"type":"line","strokeWidth":1},
   "encoding":{
    "x":{"field":"x","type":"quantitative","scale":{"domain":[-0.04,1.04],"nice":false,"zero":false},
     "axis":{"orient":"bottom","values":[0,0.05,0.1,0.15,0.2,0.25,0.3,0.35,0.4,0.45,0.5,0.55,0.6,0.65,0.7,0.75,0.8,0.85,0.9,0.95,1],"grid":true,"ticks":false,"labels":false,"domain":false,"title":null}},
    "y":{"field":"y","type":"quantitative","scale":{"domain":[-0.012,0.312],"nice":false,"zero":false},
     "axis":{"orient":"left","values":[0,0.015,0.03,0.045,0.06,0.075,0.09,0.105,0.12,0.135,0.15,0.165,0.18,0.195,0.21,0.225,0.24,0.255,0.27,0.285,0.3],"grid":true,"ticks":false,"labels":false,"domain":false,"title":null}},
    "stroke":{"field":"p","type":"nominal","scale":{"domain":["0.95","0.9","0.8","0.7","0.6","0.5","0.4","0.3","0.2","0.1"],"range":["#9400D3","#00CDCD","#0000FF","#228B22","#EE82EE","#D2691E","#A020F0","#FFA500","#FF0000","#458B74"]},"legend":null}
   }},
  {"transform":[{"filter":"datum.x >= 0.3"}],
   "mark":{"type":"point","filled":true,"shape":"circle","size":190,"color":"white","opacity":1,"strokeWidth":0},
   "encoding":{"x":{"field":"x","type":"quantitative","axis":null},"y":{"field":"y","type":"quantitative","axis":null}}},
  {"mark":{"type":"point","filled":false,"size":36,"strokeWidth":1,"opacity":1},
   "encoding":{
    "x":{"field":"x","type":"quantitative",
     "axis":{"orient":"bottom","values":[0,0.1,0.2,0.3,0.4,0.5,0.6,0.7,0.8,0.9,1],"format":".1f","grid":false,"domain":false,"tickSize":7,"labelFontSize":10.5,"labelPadding":15,"labelFlush":false,"labelOverlap":false,"title":"ψ","titleFont":"Liberation Serif","titleFontStyle":"italic","titleFontSize":24,"titleFontWeight":"normal","titleColor":"black","titleBaseline":"alphabetic","titleY":52,"titleX":218}},
    "y":{"field":"y","type":"quantitative",
     "axis":{"orient":"left","values":[0,0.03,0.06,0.09,0.12,0.15,0.18,0.21,0.24,0.27,0.3],"format":".2f","grid":false,"domain":false,"tickSize":7,"labelFontSize":10.5,"labelPadding":5.5,"labelFlush":false,"labelOverlap":false,"title":"σ²","titleAngle":0,"titleFont":"Liberation Serif","titleFontStyle":"italic","titleFontSize":24,"titleFontWeight":"normal","titleColor":"black","titleX":-61,"titleY":197,"titleAlign":"center","titleBaseline":"middle"}},
    "color":{"field":"p","type":"nominal","title":"Values of p","scale":{"domain":["0.1","0.2","0.3","0.4","0.5","0.6","0.7","0.8","0.9","0.95"],"range":["#458B74","#FF0000","#FFA500","#A020F0","#D2691E","#EE82EE","#228B22","#0000FF","#00CDCD","#9400D3"]},
     "legend":{"orient":"none","legendX":4,"legendY":6.5,"titleFontSize":12,"labelFontSize":13,"rowPadding":1.3,"labelOffset":4,"symbolSize":64,"titlePadding":7}},
    "shape":{"field":"p","type":"nominal","title":"Values of p","scale":{"domain":["0.1","0.2","0.3","0.4","0.5","0.6","0.7","0.8","0.9","0.95"],"range":["circle","M0,-1L0.95,0.7L-0.95,0.7Z","M-1,0L1,0M0,-1L0,1","M-0.8,-0.8L0.8,0.8M-0.8,0.8L0.8,-0.8","M0,-1L1,0L0,1L-1,0Z","M0,1L0.95,-0.7L-0.95,-0.7Z","M-0.8,-0.8H0.8V0.8H-0.8ZM-0.8,-0.8L0.8,0.8M-0.8,0.8L0.8,-0.8","M-1,0L1,0M0,-1L0,1M-0.7,-0.7L0.7,0.7M-0.7,0.7L0.7,-0.7","M0,-1L1,0L0,1L-1,0ZM0,-1L0,1M-1,0L1,0","M1,0A1,1,0,1,1,-1,0A1,1,0,1,1,1,0ZM-1,0L1,0M0,-1L0,1"]},
     "legend":{"orient":"none","legendX":4,"legendY":6.5,"titleFontSize":12,"labelFontSize":13,"rowPadding":1.3,"labelOffset":4,"symbolSize":64,"titlePadding":7}}
   }}
 ],
 "resolve":{"axis":{"x":"independent","y":"independent"}}
},
{
 "width":437,"height":395,
 "view":{"stroke":null},
 "title":"MSE (ψ̂) for N = 5 and T = 3",
 "data":{"name":"d"},
 "transform":[{"filter":"datum.f == 'm'"}],
 "layer":[
  {"transform":[{"filter":"datum.x >= 0.3"}],
   "mark":{"type":"line","strokeWidth":1},
   "encoding":{
    "x":{"field":"x","type":"quantitative","scale":{"domain":[-0.04,1.0233],"nice":false,"zero":false},
     "axis":{"orient":"top","values":[0,0.05,0.1,0.15,0.2,0.25,0.3,0.35,0.4,0.45,0.5,0.55,0.6,0.65,0.7,0.75,0.8,0.85,0.9,0.95,1],"grid":true,"ticks":false,"labels":false,"domain":true,"title":null}},
    "y":{"field":"y","type":"quantitative","scale":{"domain":[-0.012,0.312],"nice":false,"zero":false},
     "axis":{"orient":"left","values":[0,0.015,0.03,0.045,0.06,0.075,0.09,0.105,0.12,0.135,0.15,0.165,0.18,0.195,0.21,0.225,0.24,0.255,0.27,0.285,0.3],"grid":true,"ticks":false,"labels":false,"domain":true,"title":null}},
    "stroke":{"field":"p","type":"nominal","scale":{"domain":["0.95","0.9","0.8","0.7","0.6","0.5","0.4","0.3","0.2","0.1"],"range":["#9400D3","#00CDCD","#0000FF","#228B22","#EE82EE","#D2691E","#A020F0","#FFA500","#FF0000","#458B74"]},"legend":null}
   }},
  {"transform":[{"filter":"datum.x >= 0.3"}],
   "mark":{"type":"point","filled":true,"shape":"circle","size":190,"color":"white","opacity":1,"strokeWidth":0},
   "encoding":{"x":{"field":"x","type":"quantitative","axis":null},"y":{"field":"y","type":"quantitative","axis":null}}},
  {"mark":{"type":"point","filled":false,"size":36,"strokeWidth":1,"opacity":1},
   "encoding":{
    "x":{"field":"x","type":"quantitative",
     "axis":{"orient":"bottom","values":[0,0.1,0.2,0.3,0.4,0.5,0.6,0.7,0.8,0.9,1],"format":".1f","grid":false,"domain":true,"tickSize":7,"labelFontSize":10.5,"labelPadding":15,"labelFlush":false,"labelOverlap":false,"title":"ψ","titleFont":"Liberation Serif","titleFontStyle":"italic","titleFontSize":24,"titleFontWeight":"normal","titleColor":"black","titleBaseline":"alphabetic","titleY":52,"titleX":215}},
    "y":{"field":"y","type":"quantitative",
     "axis":{"orient":"left","values":[0,0.03,0.06,0.09,0.12,0.15,0.18,0.21,0.24,0.27,0.3],"format":".2f","grid":false,"domain":false,"tickSize":7,"labelFontSize":10.5,"labelPadding":5.5,"labelFlush":false,"labelOverlap":false,"title":"ν²","titleAngle":0,"titleFont":"Liberation Serif","titleFontStyle":"italic","titleFontSize":24,"titleFontWeight":"normal","titleColor":"black","titleX":-58,"titleY":197,"titleAlign":"center","titleBaseline":"middle"}},
    "color":{"field":"p","type":"nominal","title":"Values of p","scale":{"domain":["0.1","0.2","0.3","0.4","0.5","0.6","0.7","0.8","0.9","0.95"],"range":["#458B74","#FF0000","#FFA500","#A020F0","#D2691E","#EE82EE","#228B22","#0000FF","#00CDCD","#9400D3"]},
     "legend":{"orient":"none","legendX":4,"legendY":6.5,"titleFontSize":12,"labelFontSize":13,"rowPadding":1.3,"labelOffset":4,"symbolSize":64,"titlePadding":7}},
    "shape":{"field":"p","type":"nominal","title":"Values of p","scale":{"domain":["0.1","0.2","0.3","0.4","0.5","0.6","0.7","0.8","0.9","0.95"],"range":["circle","M0,-1L0.95,0.7L-0.95,0.7Z","M-1,0L1,0M0,-1L0,1","M-0.8,-0.8L0.8,0.8M-0.8,0.8L0.8,-0.8","M0,-1L1,0L0,1L-1,0Z","M0,1L0.95,-0.7L-0.95,-0.7Z","M-0.8,-0.8H0.8V0.8H-0.8ZM-0.8,-0.8L0.8,0.8M-0.8,0.8L0.8,-0.8","M-1,0L1,0M0,-1L0,1M-0.7,-0.7L0.7,0.7M-0.7,0.7L0.7,-0.7","M0,-1L1,0L0,1L-1,0ZM0,-1L0,1M-1,0L1,0","M1,0A1,1,0,1,1,-1,0A1,1,0,1,1,1,0ZM-1,0L1,0M0,-1L0,1"]},
     "legend":{"orient":"none","legendX":4,"legendY":6.5,"titleFontSize":12,"labelFontSize":13,"rowPadding":1.3,"labelOffset":4,"symbolSize":64,"titlePadding":7}}
   }}
 ],
 "resolve":{"axis":{"x":"independent","y":"independent"}}
}
],
"spacing":74,
"bounds":"flush",
"resolve":{"scale":{"color":"independent","shape":"independent","stroke":"independent"},"legend":{"color":"independent","shape":"independent"}}
}
